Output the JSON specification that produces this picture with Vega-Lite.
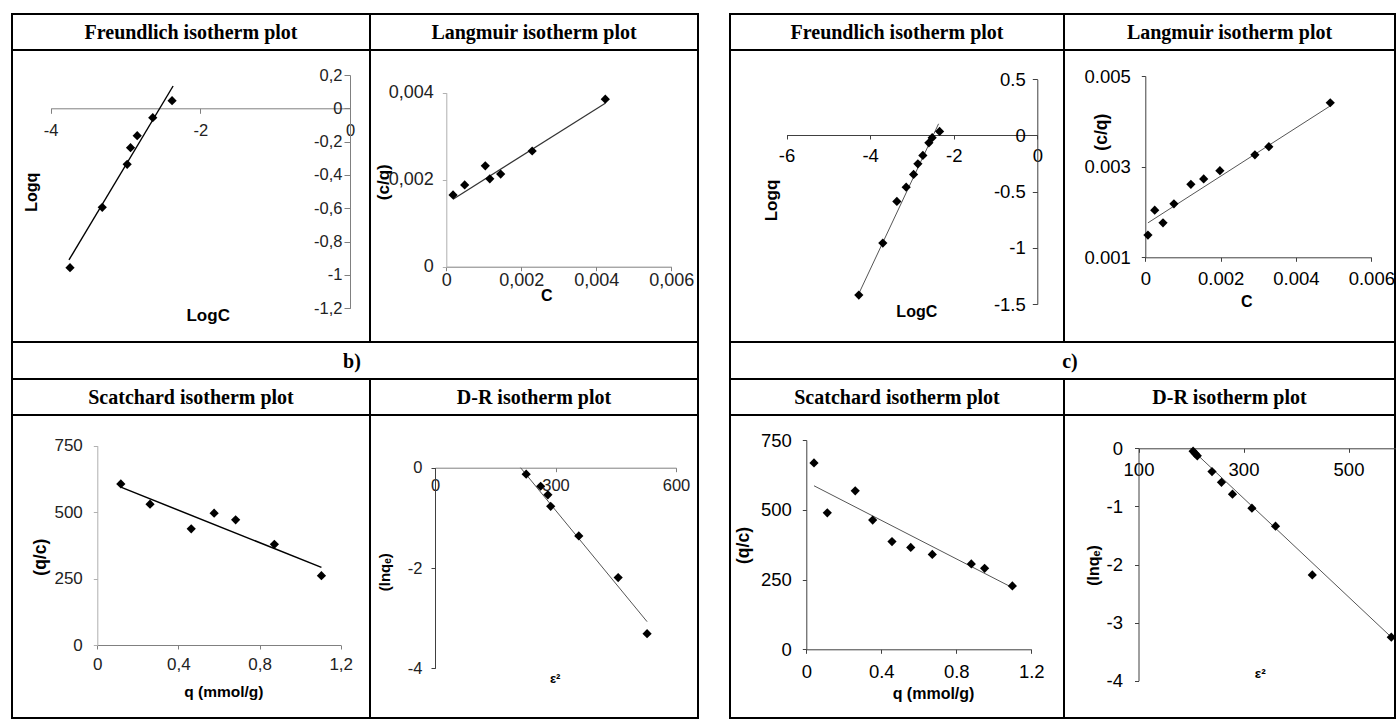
{
  "$schema": "https://vega.github.io/schema/vega-lite/v6.json",
  "padding": {"left": 11, "top": 13, "right": 0, "bottom": 0},
  "background": "white",
  "config": {
    "view": {"stroke": "black", "strokeWidth": 2},
    "axis": {"labelFont": "Liberation Sans", "labelColor": "#222", "labelFontSize": 16, "titleFont": "Liberation Sans", "titleFontWeight": "bold", "titleColor": "black", "titleFontSize": 16, "grid": false, "labelFlush": false, "labelOverlap": false, "labelBound": false, "titleAlign": "center", "titleBaseline": "middle", "titlePadding": 0, "domainWidth": 1, "tickWidth": 1, "domainColor": "#808080", "tickColor": "#808080"}
  },
  "datasets": {
    "fb_pts": [{"x": -3.742, "y": -0.956}, {"x": -3.311, "y": -0.594}, {"x": -2.978, "y": -0.336}, {"x": -2.933, "y": -0.236}, {"x": -2.844, "y": -0.164}, {"x": -2.636, "y": -0.056}, {"x": -2.378, "y": 0.046}],
    "fb_fit": [{"x": -3.756, "y": -0.91}, {"x": -2.364, "y": 0.134}],
    "lb_pts": [{"x": 0.00018, "y": 0.00165}, {"x": 0.00049, "y": 0.00188}, {"x": 0.00104, "y": 0.00232}, {"x": 0.00116, "y": 0.00202}, {"x": 0.00145, "y": 0.00213}, {"x": 0.00229, "y": 0.00266}, {"x": 0.00424, "y": 0.00385}],
    "lb_fit": [{"x": 0.00018, "y": 0.00155}, {"x": 0.00424, "y": 0.00376}],
    "sb_pts": [{"x": 0.116, "y": 606}, {"x": 0.26, "y": 530}, {"x": 0.463, "y": 437}, {"x": 0.576, "y": 496}, {"x": 0.682, "y": 471}, {"x": 0.873, "y": 379}, {"x": 1.105, "y": 261}],
    "sb_fit": [{"x": 0.116, "y": 594}, {"x": 1.105, "y": 292}],
    "db_pts": [{"x": 227, "y": -0.13}, {"x": 263, "y": -0.37}, {"x": 281, "y": -0.54}, {"x": 288, "y": -0.77}, {"x": 358, "y": -1.36}, {"x": 456, "y": -2.19}, {"x": 528, "y": -3.31}],
    "db_fit": [{"x": 213, "y": 0}, {"x": 528, "y": -3.07}],
    "fc_pts": [{"x": -4.27, "y": -1.421}, {"x": -3.696, "y": -0.958}, {"x": -3.36, "y": -0.587}, {"x": -3.137, "y": -0.46}, {"x": -2.96, "y": -0.347}, {"x": -2.857, "y": -0.252}, {"x": -2.738, "y": -0.178}, {"x": -2.594, "y": -0.065}, {"x": -2.515, "y": -0.02}, {"x": -2.338, "y": 0.036}],
    "fc_fit": [{"x": -4.27, "y": -1.408}, {"x": -2.362, "y": 0.104}],
    "lc_pts": [{"x": 0.00007, "y": 0.00149}, {"x": 0.00025, "y": 0.00204}, {"x": 0.00047, "y": 0.00176}, {"x": 0.00076, "y": 0.00218}, {"x": 0.00121, "y": 0.00261}, {"x": 0.00155, "y": 0.00273}, {"x": 0.00198, "y": 0.00291}, {"x": 0.00291, "y": 0.00326}, {"x": 0.00328, "y": 0.00344}, {"x": 0.00491, "y": 0.00441}],
    "lc_fit": [{"x": 0.00007, "y": 0.00176}, {"x": 0.00491, "y": 0.00434}],
    "sc_pts": [{"x": 0.041, "y": 668}, {"x": 0.112, "y": 489}, {"x": 0.261, "y": 568}, {"x": 0.354, "y": 463}, {"x": 0.457, "y": 386}, {"x": 0.557, "y": 365}, {"x": 0.672, "y": 340}, {"x": 0.88, "y": 306}, {"x": 0.951, "y": 290}, {"x": 1.099, "y": 227}],
    "sc_fit": [{"x": 0.041, "y": 586}, {"x": 1.099, "y": 221}],
    "dc_pts": [{"x": 204, "y": -0.05}, {"x": 208, "y": -0.09}, {"x": 212, "y": -0.13}, {"x": 240, "y": -0.4}, {"x": 258, "y": -0.585}, {"x": 279, "y": -0.79}, {"x": 316, "y": -1.03}, {"x": 361, "y": -1.34}, {"x": 431, "y": -2.18}, {"x": 581.5, "y": -3.25}],
    "dc_fit": [{"x": 199, "y": 0}, {"x": 581.5, "y": -3.25}]
  },
  "columns": 5,
  "spacing": 0,
  "bounds": "flush",
  "align": "none",
  "concat": [
    {"width": 358, "height": 36, "data": {"values": [{"t": "Freundlich isotherm plot"}]}, "mark": {"type": "text", "font": "Liberation Serif", "fontWeight": "bold", "fontSize": 20, "dy": 1, "color": "black"}, "encoding": {"text": {"field": "t"}, "x": {"datum": 0.5, "type": "quantitative", "scale": {"domain": [0, 1]}, "axis": null}, "y": {"datum": 0.5, "type": "quantitative", "scale": {"domain": [0, 1]}, "axis": null}}},
    {"width": 328, "height": 36, "data": {"values": [{"t": "Langmuir isotherm plot"}]}, "mark": {"type": "text", "font": "Liberation Serif", "fontWeight": "bold", "fontSize": 20, "dy": 1, "color": "black"}, "encoding": {"text": {"field": "t"}, "x": {"datum": 0.5, "type": "quantitative", "scale": {"domain": [0, 1]}, "axis": null}, "y": {"datum": 0.5, "type": "quantitative", "scale": {"domain": [0, 1]}, "axis": null}}},
    {"width": 32, "height": 36, "view": {"stroke": null}, "data": {"values": [{}]}, "mark": {"type": "text", "text": ""}},
    {"width": 334, "height": 36, "data": {"values": [{"t": "Freundlich isotherm plot"}]}, "mark": {"type": "text", "font": "Liberation Serif", "fontWeight": "bold", "fontSize": 20, "dy": 1, "color": "black"}, "encoding": {"text": {"field": "t"}, "x": {"datum": 0.5, "type": "quantitative", "scale": {"domain": [0, 1]}, "axis": null}, "y": {"datum": 0.5, "type": "quantitative", "scale": {"domain": [0, 1]}, "axis": null}}},
    {"width": 331, "height": 36, "data": {"values": [{"t": "Langmuir isotherm plot"}]}, "mark": {"type": "text", "font": "Liberation Serif", "fontWeight": "bold", "fontSize": 20, "dy": 1, "color": "black"}, "encoding": {"text": {"field": "t"}, "x": {"datum": 0.5, "type": "quantitative", "scale": {"domain": [0, 1]}, "axis": null}, "y": {"datum": 0.5, "type": "quantitative", "scale": {"domain": [0, 1]}, "axis": null}}},

    {"width": 358, "height": 292,
     "encoding": {
       "x": {"field": "x", "type": "quantitative", "scale": {"domain": [-4, 0], "range": [38.7, 338], "nice": false, "zero": false},
             "axis": {"orient": "bottom", "offset": -233.7, "values": [-4, -2, 0], "labelExpr": "replace(''+datum.value,'.',',')", "labelFontSize": 16.5, "tickSize": 5, "labelPadding": 9, "title": "LogC", "titleX": 195.7, "titleY": 206.7, "titleFontSize": 17}},
       "y": {"field": "y", "type": "quantitative", "scale": {"domain": [-1.2, 0.2], "range": [258.3, 25], "nice": false, "zero": false},
             "axis": {"orient": "left", "offset": -338, "values": [0.2, 0, -0.2, -0.4, -0.6, -0.8, -1, -1.2], "labelExpr": "replace(''+datum.value,'.',',')", "labelFontSize": 16.5, "tickSize": 6, "labelPadding": 2, "title": "Logq", "titleX": -318.3, "titleY": 141.7}}
     },
     "layer": [
       {"data": {"name": "fb_fit"}, "mark": {"type": "line", "color": "black", "strokeWidth": 1.4}},
       {"data": {"name": "fb_pts"}, "mark": {"type": "point", "shape": "diamond", "filled": true, "color": "black", "size": 85, "opacity": 1}}
     ]},
    {"width": 328, "height": 292,
     "encoding": {
       "x": {"field": "x", "type": "quantitative", "scale": {"domain": [0, 0.006], "range": [76.3, 301.3], "nice": false, "zero": false},
             "axis": {"orient": "bottom", "offset": -75.3, "values": [0, 0.002, 0.004, 0.006], "labelExpr": "replace(''+datum.value,'.',',')", "labelFontSize": 18, "tickSize": 4, "labelPadding": 1, "title": "C", "titleX": 176.3, "titleY": 28.3, "titleFontSize": 16}},
       "y": {"field": "y", "type": "quantitative", "scale": {"domain": [0, 0.004], "range": [216.7, 42.7], "nice": false, "zero": false},
             "axis": {"orient": "left", "offset": -76.3, "values": [0, 0.002, 0.004], "labelExpr": "replace(''+datum.value,'.',',')", "labelFontSize": 18, "tickSize": 4, "labelPadding": 9, "domainColor": "#b0b0b0", "tickColor": "#b0b0b0", "title": "(c/q)", "titleX": -63.3, "titleY": 131.7, "titleFontSize": 17}}
     },
     "layer": [
       {"data": {"name": "lb_fit"}, "mark": {"type": "line", "color": "#333", "strokeWidth": 1.2}},
       {"data": {"name": "lb_pts"}, "mark": {"type": "point", "shape": "diamond", "filled": true, "color": "black", "size": 85, "opacity": 1}}
     ]},
    {"width": 32, "height": 292, "view": {"stroke": null}, "data": {"values": [{}]}, "mark": {"type": "text", "text": ""}},
    {"width": 334, "height": 292,
     "encoding": {
       "x": {"field": "x", "type": "quantitative", "scale": {"domain": [-6, 0], "range": [56.5, 307.3], "nice": false, "zero": false},
             "axis": {"orient": "bottom", "offset": -207, "values": [-6, -4, -2, 0], "labelExpr": "''+datum.value", "labelFontSize": 18.5, "tickSize": 4, "labelPadding": 7, "labelColor": "black", "domainColor": "#404040", "tickColor": "#404040", "title": "LogC", "titleX": 186.3, "titleY": 176.7}},
       "y": {"field": "y", "type": "quantitative", "scale": {"domain": [-1.5, 0.5], "range": [254, 29.3], "nice": false, "zero": false},
             "axis": {"orient": "left", "offset": -307.3, "values": [0.5, 0, -0.5, -1, -1.5], "labelExpr": "''+datum.value", "labelFontSize": 18.5, "tickSize": 5, "labelPadding": 7, "labelColor": "black", "domainColor": "#404040", "tickColor": "#404040", "title": "Logq", "titleX": -266, "titleY": 150, "titleFontSize": 17}}
     },
     "layer": [
       {"data": {"name": "fc_fit"}, "mark": {"type": "line", "color": "#555", "strokeWidth": 1}},
       {"data": {"name": "fc_pts"}, "mark": {"type": "point", "shape": "diamond", "filled": true, "color": "black", "size": 85, "opacity": 1}}
     ]},
    {"width": 331, "height": 292,
     "encoding": {
       "x": {"field": "x", "type": "quantitative", "scale": {"domain": [0, 0.006], "range": [81.3, 307.3], "nice": false, "zero": false},
             "axis": {"orient": "bottom", "offset": -84.7, "values": [0, 0.002, 0.004, 0.006], "labelExpr": "''+datum.value", "labelFontSize": 18.5, "tickSize": 4, "labelPadding": 8, "labelColor": "black", "domainColor": "#404040", "tickColor": "#404040", "title": "C", "titleX": 182.3, "titleY": 44.4}},
       "y": {"field": "y", "type": "quantitative", "scale": {"domain": [0.001, 0.005], "range": [207.3, 26], "nice": false, "zero": false},
             "axis": {"orient": "left", "offset": -81.3, "values": [0.001, 0.003, 0.005], "labelExpr": "''+datum.value", "labelFontSize": 18.5, "tickSize": 4, "labelPadding": 11, "labelColor": "black", "domainColor": "#404040", "tickColor": "#404040", "title": "(c/q)", "titleX": -44, "titleY": 81.7, "titleFontSize": 17.5}}
     },
     "layer": [
       {"data": {"name": "lc_fit"}, "mark": {"type": "line", "color": "#555", "strokeWidth": 1}},
       {"data": {"name": "lc_pts"}, "mark": {"type": "point", "shape": "diamond", "filled": true, "color": "black", "size": 85, "opacity": 1}}
     ]},

    {"width": 358, "height": 37, "view": {"stroke": null}, "data": {"values": [{"t": "b)"}]},
     "layer": [
       {"mark": {"type": "rule", "color": "black", "strokeWidth": 2}, "encoding": {"x": {"datum": 0, "type": "quantitative", "scale": {"domain": [0, 1], "nice": false, "zero": false}, "axis": null}}},
       {"mark": {"type": "text", "font": "Liberation Serif", "fontWeight": "bold", "fontSize": 20, "dx": -18, "dy": 1, "color": "black"}, "encoding": {"text": {"field": "t"}, "x": {"datum": 1, "type": "quantitative", "axis": null}}}
     ]},
    {"width": 328, "height": 37, "view": {"stroke": null}, "data": {"values": [{}]},
     "mark": {"type": "rule", "color": "black", "strokeWidth": 2}, "encoding": {"x": {"datum": 1, "type": "quantitative", "scale": {"domain": [0, 1], "nice": false, "zero": false}, "axis": null}}},
    {"width": 32, "height": 37, "view": {"stroke": null}, "data": {"values": [{}]}, "mark": {"type": "text", "text": ""}},
    {"width": 334, "height": 37, "view": {"stroke": null}, "data": {"values": [{}]},
     "mark": {"type": "rule", "color": "black", "strokeWidth": 2}, "encoding": {"x": {"datum": 0, "type": "quantitative", "scale": {"domain": [0, 1], "nice": false, "zero": false}, "axis": null}}},
    {"width": 331, "height": 37, "view": {"stroke": null}, "data": {"values": [{"t": "c)"}]},
     "layer": [
       {"mark": {"type": "rule", "color": "black", "strokeWidth": 2}, "encoding": {"x": {"datum": 1, "type": "quantitative", "scale": {"domain": [0, 1], "nice": false, "zero": false}, "axis": null}}},
       {"mark": {"type": "text", "font": "Liberation Serif", "fontWeight": "bold", "fontSize": 20, "dx": 6, "dy": 1, "color": "black"}, "encoding": {"text": {"field": "t"}, "x": {"datum": 0, "type": "quantitative", "axis": null}}}
     ]},

    {"width": 358, "height": 36, "data": {"values": [{"t": "Scatchard isotherm plot"}]}, "mark": {"type": "text", "font": "Liberation Serif", "fontWeight": "bold", "fontSize": 20, "dy": 1, "color": "black"}, "encoding": {"text": {"field": "t"}, "x": {"datum": 0.5, "type": "quantitative", "scale": {"domain": [0, 1]}, "axis": null}, "y": {"datum": 0.5, "type": "quantitative", "scale": {"domain": [0, 1]}, "axis": null}}},
    {"width": 328, "height": 36, "data": {"values": [{"t": "D-R isotherm plot"}]}, "mark": {"type": "text", "font": "Liberation Serif", "fontWeight": "bold", "fontSize": 20, "dy": 1, "color": "black"}, "encoding": {"text": {"field": "t"}, "x": {"datum": 0.5, "type": "quantitative", "scale": {"domain": [0, 1]}, "axis": null}, "y": {"datum": 0.5, "type": "quantitative", "scale": {"domain": [0, 1]}, "axis": null}}},
    {"width": 32, "height": 36, "view": {"stroke": null}, "data": {"values": [{}]}, "mark": {"type": "text", "text": ""}},
    {"width": 334, "height": 36, "data": {"values": [{"t": "Scatchard isotherm plot"}]}, "mark": {"type": "text", "font": "Liberation Serif", "fontWeight": "bold", "fontSize": 20, "dy": 1, "color": "black"}, "encoding": {"text": {"field": "t"}, "x": {"datum": 0.5, "type": "quantitative", "scale": {"domain": [0, 1]}, "axis": null}, "y": {"datum": 0.5, "type": "quantitative", "scale": {"domain": [0, 1]}, "axis": null}}},
    {"width": 331, "height": 36, "data": {"values": [{"t": "D-R isotherm plot"}]}, "mark": {"type": "text", "font": "Liberation Serif", "fontWeight": "bold", "fontSize": 20, "dy": 1, "color": "black"}, "encoding": {"text": {"field": "t"}, "x": {"datum": 0.5, "type": "quantitative", "scale": {"domain": [0, 1]}, "axis": null}, "y": {"datum": 0.5, "type": "quantitative", "scale": {"domain": [0, 1]}, "axis": null}}},

    {"width": 358, "height": 303,
     "encoding": {
       "x": {"field": "x", "type": "quantitative", "scale": {"domain": [0, 1.2], "range": [85.3, 328.7], "nice": false, "zero": false},
             "axis": {"orient": "bottom", "offset": -73, "values": [0, 0.4, 0.8, 1.2], "labelExpr": "replace(''+datum.value,'.',',')", "labelFontSize": 17, "tickSize": 4, "labelPadding": 7, "title": "q (mmol/g)", "titleX": 211.3, "titleY": 46.7, "titleFontSize": 15.5}},
       "y": {"field": "y", "type": "quantitative", "scale": {"domain": [0, 750], "range": [230, 30.7], "nice": false, "zero": false},
             "axis": {"orient": "left", "offset": -85.3, "values": [0, 250, 500, 750], "labelExpr": "''+datum.value", "labelFontSize": 17, "tickSize": 4, "labelPadding": 11, "domainColor": "#b0b0b0", "tickColor": "#b0b0b0", "title": "(q/c)", "titleX": -57.3, "titleY": 141.7, "titleFontSize": 17.5}}
     },
     "layer": [
       {"data": {"name": "sb_fit"}, "mark": {"type": "line", "color": "black", "strokeWidth": 1.5}},
       {"data": {"name": "sb_pts"}, "mark": {"type": "point", "shape": "diamond", "filled": true, "color": "black", "size": 85, "opacity": 1}}
     ]},
    {"width": 328, "height": 303,
     "encoding": {
       "x": {"field": "x", "type": "quantitative", "scale": {"domain": [0, 600], "range": [65, 306], "nice": false, "zero": false},
             "axis": {"orient": "bottom", "offset": -250.3, "values": [0, 300, 600], "labelExpr": "''+datum.value", "labelFontSize": 16.5, "tickSize": 4, "labelPadding": 6, "title": "ε²", "titleX": 184.7, "titleY": 210.6, "titleFontSize": 13}},
       "y": {"field": "y", "type": "quantitative", "scale": {"domain": [-4, 0], "range": [253.3, 52.7], "nice": false, "zero": false},
             "axis": {"orient": "left", "offset": -65, "values": [0, -2, -4], "labelExpr": "''+datum.value", "labelFontSize": 16.5, "tickSize": 4, "labelPadding": 9, "domainColor": "#404040", "tickColor": "#404040", "title": "(lnqₑ)", "titleX": -50.3, "titleY": 156.7, "titleFontSize": 15}}
     },
     "layer": [
       {"data": {"name": "db_fit"}, "mark": {"type": "line", "color": "#555", "strokeWidth": 1}},
       {"data": {"name": "db_pts"}, "mark": {"type": "point", "shape": "diamond", "filled": true, "color": "black", "size": 85, "opacity": 1}}
     ]},
    {"width": 32, "height": 303, "view": {"stroke": null}, "data": {"values": [{}]}, "mark": {"type": "text", "text": ""}},
    {"width": 334, "height": 303,
     "encoding": {
       "x": {"field": "x", "type": "quantitative", "scale": {"domain": [0, 1.2], "range": [76.3, 301.3], "nice": false, "zero": false},
             "axis": {"orient": "bottom", "offset": -68.7, "values": [0, 0.4, 0.8, 1.2], "labelExpr": "''+datum.value", "labelFontSize": 18.5, "tickSize": 4, "labelPadding": 9, "labelColor": "black", "domainColor": "#404040", "tickColor": "#404040", "title": "q (mmol/g)", "titleX": 203, "titleY": 44}},
       "y": {"field": "y", "type": "quantitative", "scale": {"domain": [0, 750], "range": [234.3, 25], "nice": false, "zero": false},
             "axis": {"orient": "left", "offset": -76.3, "values": [0, 250, 500, 750], "labelExpr": "''+datum.value", "labelFontSize": 18.5, "tickSize": 4, "labelPadding": 11, "labelColor": "black", "domainColor": "#404040", "tickColor": "#404040", "title": "(q/c)", "titleX": -63.3, "titleY": 130, "titleFontSize": 17.5}}
     },
     "layer": [
       {"data": {"name": "sc_fit"}, "mark": {"type": "line", "color": "#555", "strokeWidth": 1}},
       {"data": {"name": "sc_pts"}, "mark": {"type": "point", "shape": "diamond", "filled": true, "color": "black", "size": 85, "opacity": 1}}
     ]},
    {"width": 331, "height": 303,
     "encoding": {
       "x": {"field": "x", "type": "quantitative", "scale": {"domain": [100, 590], "range": [74.5, 331.75], "nice": false, "zero": false},
             "axis": {"orient": "bottom", "offset": -269.7, "values": [100, 300, 500], "labelExpr": "''+datum.value", "labelFontSize": 18.5, "tickSize": 4, "labelPadding": 8, "labelColor": "black", "domainColor": "#404040", "tickColor": "#404040", "title": "ε²", "titleX": 195.7, "titleY": 225, "titleFontSize": 13.5}},
       "y": {"field": "y", "type": "quantitative", "scale": {"domain": [-4, 0], "range": [265.7, 33.3], "nice": false, "zero": false},
             "axis": {"orient": "left", "offset": -74.5, "values": [0, -1, -2, -3, -4], "labelExpr": "''+datum.value", "labelFontSize": 18.5, "tickSize": 4, "labelPadding": 12, "labelColor": "black", "domainColor": "#404040", "tickColor": "#404040", "title": "(lnqₑ)", "titleX": -45.5, "titleY": 150, "titleFontSize": 16}}
     },
     "layer": [
       {"data": {"name": "dc_fit"}, "mark": {"type": "line", "color": "#555", "strokeWidth": 1}},
       {"data": {"name": "dc_pts"}, "mark": {"type": "point", "shape": "diamond", "filled": true, "color": "black", "size": 85, "opacity": 1}}
     ]}
  ]
}
